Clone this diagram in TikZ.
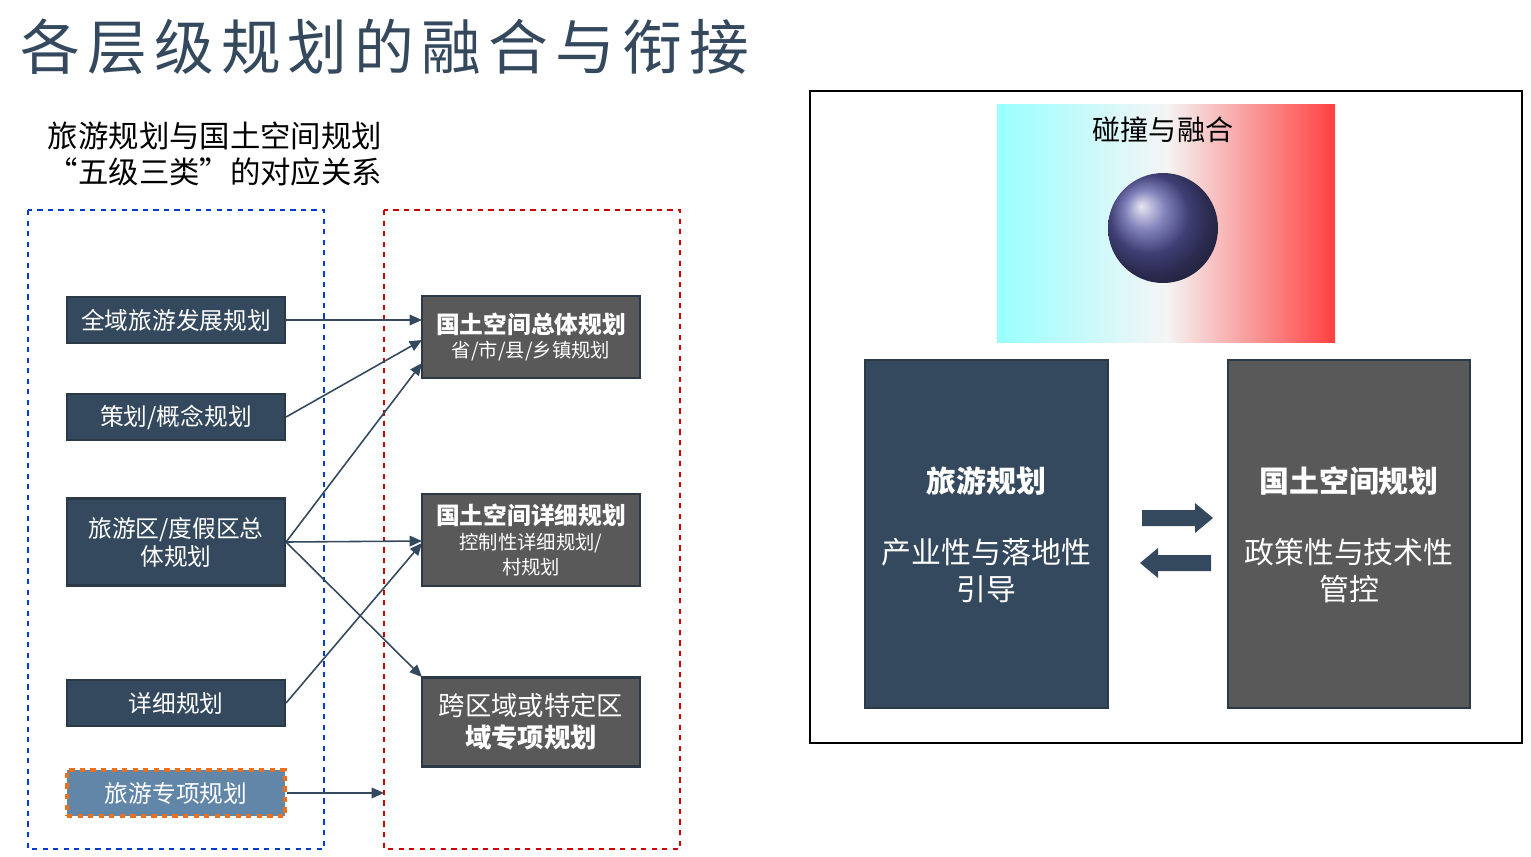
\documentclass[tikz,border=0pt]{standalone}
\usepackage{fontspec}
\setmainfont{Liberation Sans}
\newfontfamily\cjk{Noto Sans CJK SC}
\usetikzlibrary{arrows.meta}
\definecolor{navy}{HTML}{34495E}
\definecolor{gry}{HTML}{595959}
\definecolor{edge}{HTML}{2C3A48}
\definecolor{steel}{HTML}{6286A8}
\definecolor{org}{HTML}{E8701F}
\newcommand{\bigf}{\fontsize{13.5}{16}\selectfont\bfseries}
\newcommand{\smf}{\fontsize{11}{12.5}\selectfont\mdseries}
\begin{document}
\begin{tikzpicture}[x=0.02cm,y=-0.02cm,font=\cjk,
  lbox/.style={draw=edge,line width=1.2pt,fill=navy,text=white,minimum width=218*0.02cm,align=center,font=\cjk\fontsize{13.5}{16}\selectfont,inner sep=0pt},
  rbox/.style={draw=edge,line width=1.2pt,fill=gry,text=white,minimum width=218*0.02cm,align=center,inner sep=0pt},
  con/.style={draw=navy,line width=0.9pt,-{Triangle[length=7pt,width=6pt]}}]
\useasboundingbox (0,0) rectangle (1531,856);
\node[anchor=west,text=navy,inner sep=0pt,font=\cjk\fontsize{34}{38}\selectfont\addfontfeature{LetterSpace=12}] (title) at (20,47) {各层级规划的融合与衔接};
\node[align=center,inner sep=0pt,font=\cjk\fontsize{17.3}{20}\selectfont] (sub) at (215,154) {旅游规划与国土空间规划\\“五级三类”的对应关系};
\draw[blue!70!cyan!80!black,dashed,line width=1pt] (28,210) rectangle (324,849);
\draw[red!80!black,dashed,line width=1pt] (384,210) rectangle (680,849);
\node[lbox,minimum height=46*0.02cm] (a1) at (176,320) {全域旅游发展规划};
\node[lbox,minimum height=46*0.02cm] (a2) at (176,417) {策划/概念规划};
\node[lbox,minimum height=87*0.02cm] (a3) at (176,542) {旅游区/度假区总\\体规划};
\node[lbox,minimum height=46*0.02cm] (a4) at (176,703) {详细规划};
\node[lbox,minimum height=46*0.02cm,fill=steel,draw=org,dashed,line width=1.8pt] (a5) at (176,793) {旅游专项规划};
\node[rbox,minimum height=82*0.02cm,font=\cjk\bigf] (b1) at (531,337) {国土空间总体规划\\[-2pt]\smf 省/市/县/乡镇规划};
\node[rbox,minimum height=92*0.02cm,font=\cjk\bigf] (b2) at (531,540) {国土空间详细规划\\[-2pt]\smf 控制性详细规划/\\[-2pt]\smf 村规划};
\node[rbox,minimum height=89*0.02cm,font=\cjk\fontsize{15}{18}\selectfont] (b3) at (531,722) {跨区域或特定区\\\bfseries 域专项规划};
\coordinate (b1w1) at (422,320);
\coordinate (b1w2) at (422,340);
\coordinate (b1w3) at (422,363);
\coordinate (b2w1) at (422,541);
\coordinate (b2w2) at (422,543);
\coordinate (b3nw) at (422,677);
\coordinate (redl) at (384,793);
\draw[con] (a1.east) -- (b1w1);
\draw[con] (a2.east) -- (b1w2);
\draw[con] (a3.east) -- (b1w3);
\draw[con] (a3.east) -- (b2w1);
\draw[con] (a3.east) -- (b3nw);
\draw[con] (a4.east) -- (b2w2);
\draw[con] (a5.east) -- (redl);
% right panel
\draw[black,line width=1.2pt] (810,91) rectangle (1522,743);
\shade[left color=cyan!40,right color=red!75,middle color=white!92!gray] (997,104) rectangle (1335,342);
\shade[ball color=blue!30!gray] (1163,228) circle (55);
\node[font=\cjk\fontsize{16}{19}\selectfont] (pic) at (1163,130) {碰撞与融合};
\node[draw=edge,line width=1.2pt,fill=navy,minimum width=243*0.02cm,minimum height=348*0.02cm] (c1) at (986.5,534) {};
\node[draw=edge,line width=1.2pt,fill=gry,minimum width=242*0.02cm,minimum height=348*0.02cm] (c2) at (1349,534) {};
\node[text=white,font=\cjk\fontsize{17}{20}\selectfont\bfseries] (c1t) at (986.5,481) {旅游规划};
\node[text=white,align=center,font=\cjk\fontsize{17}{21}\selectfont] (c1s) at (986.5,571) {产业性与落地性\\引导};
\node[text=white,font=\cjk\fontsize{17}{20}\selectfont\bfseries] (c2t) at (1349,481) {国土空间规划};
\node[text=white,align=center,font=\cjk\fontsize{17}{21}\selectfont] (c2s) at (1349,571) {政策性与技术性\\管控};
\fill[navy] (1142,510) -- (1195,510) -- (1195,503) -- (1213,518) -- (1195,533) -- (1195,526) -- (1142,526) -- cycle;
\fill[navy] (1211,555) -- (1158,555) -- (1158,548) -- (1140,563) -- (1158,578) -- (1158,571) -- (1211,571) -- cycle;
\end{tikzpicture}
\end{document}
